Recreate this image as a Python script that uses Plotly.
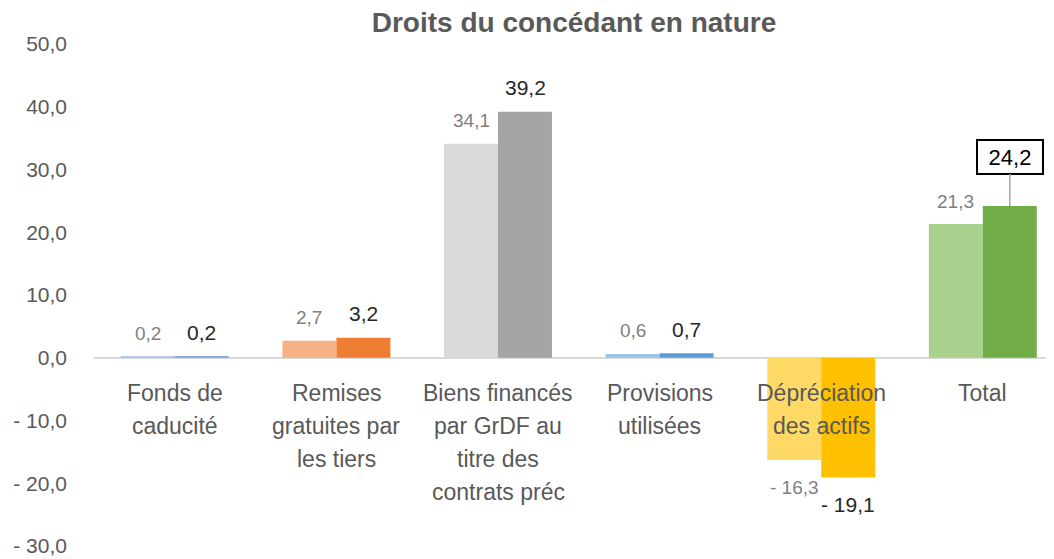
import plotly.graph_objects as go

# data
categories = ["Fonds de caducité", "Remises gratuites par les tiers",
              "Biens financés par GrDF au titre des contrats préc",
              "Provisions utilisées", "Dépréciation des actifs", "Total"]
category_lines = [["Fonds de", "caducité"],
                  ["Remises", "gratuites par", "les tiers"],
                  ["Biens financés", "par GrDF au", "titre des", "contrats préc"],
                  ["Provisions", "utilisées"],
                  ["Dépréciation", "des actifs"],
                  ["Total"]]
values_prev = [0.2, 2.7, 34.1, 0.6, -16.3, 21.3]
values_curr = [0.2, 3.2, 39.2, 0.7, -19.1, 24.2]
y_ticks = [50, 40, 30, 20, 10, 0, -10, -20, -30]

colors_light = ["#b4c7e7", "#f4b183", "#d9d9d9", "#9dc3e6", "#ffd966", "#a9d18e"]
colors_dark = ["#8faadc", "#ed7d31", "#a5a5a5", "#5b9bd5", "#ffc000", "#70ad47"]

FONT = "Liberation Sans, Arial, sans-serif"
GREY = "#595959"


def fmt(v):
    s = f"{abs(v):.1f}".replace(".", ",")
    return "- " + s if v < 0 else s


fig = go.Figure()
fig.add_trace(go.Bar(x=categories, y=values_prev, marker_color=colors_light,
                     marker_line_width=0, name="N-1"))
fig.add_trace(go.Bar(x=categories, y=values_curr, marker_color=colors_dark,
                     marker_line_width=0, name="N"))

annotations = []
# data labels
for cat, v in zip(categories, values_prev):
    annotations.append(dict(x=cat, y=v, xshift=-27, yshift=23 if v >= 0 else -27,
                            text=fmt(v), showarrow=False,
                            font=dict(size=19, color="#7f7f7f", family=FONT)))
for cat, v in zip(categories, values_curr):
    if cat == "Total":
        # boxed label with leader line
        annotations.append(dict(x=cat, y=v, xshift=27, text=fmt(v), showarrow=True,
                                ax=0, ay=-49, arrowhead=0, arrowwidth=1.5,
                                arrowcolor="#a6a6a6", bgcolor="white",
                                bordercolor="black", borderwidth=2, borderpad=4,
                                width=56, height=24,
                                font=dict(size=22, color="black", family=FONT)))
        continue
    annotations.append(dict(x=cat, y=v, xshift=27, yshift=24 if v >= 0 else -27,
                            text=fmt(v), showarrow=False,
                            font=dict(size=21, color="#262626", family=FONT)))

# category labels hanging under the zero line
for cat, lines in zip(categories, category_lines):
    for i, line in enumerate(lines):
        annotations.append(dict(x=cat, y=0, yanchor="middle", yshift=-35 - 33 * i,
                                text=line, showarrow=False,
                                font=dict(size=23, color=GREY, family=FONT)))

fig.update_layout(
    width=1054, height=559,
    margin=dict(l=86, r=0, t=36, b=21),
    paper_bgcolor="white", plot_bgcolor="white",
    barmode="group", bargap=0.332, bargroupgap=0,
    showlegend=False,
    title=dict(text="<b>Droits du concédant en nature</b>", x=0.537, xref="container",
               xanchor="center", y=0.975, yref="container", yanchor="middle",
               font=dict(size=28, color=GREY, family=FONT)),
    font=dict(family=FONT, color=GREY),
    annotations=annotations,
)
fig.update_xaxes(range=[-0.5, 5.49], showticklabels=False, showgrid=False,
                 zeroline=False, showline=False)
fig.update_yaxes(range=[-30, 50], tickvals=y_ticks, ticktext=[fmt(t) for t in y_ticks],
                 showgrid=False, zeroline=True, zerolinecolor="#d9d9d9",
                 zerolinewidth=1.5, showline=False, ticks="",
                 ticklabelstandoff=26,
                 tickfont=dict(size=21, color=GREY, family=FONT))

fig.write_html("out.html")
